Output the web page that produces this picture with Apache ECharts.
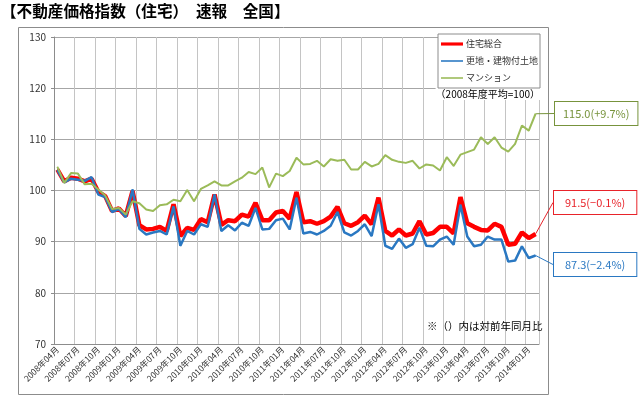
<!DOCTYPE html>
<html><head><meta charset="utf-8">
<script src="https://cdn.jsdelivr.net/npm/echarts@6/dist/echarts.min.js"></script>
<style>html,body{margin:0;padding:0;background:#fff}#c{width:640px;height:399px}</style>
</head><body><div id="c"></div>
<script>
const categories = [
'2008年04月','2008年05月','2008年06月','2008年07月','2008年08月','2008年09月','2008年10月','2008年11月','2008年12月',
'2009年01月','2009年02月','2009年03月','2009年04月','2009年05月','2009年06月','2009年07月','2009年08月','2009年09月','2009年10月','2009年11月','2009年12月',
'2010年01月','2010年02月','2010年03月','2010年04月','2010年05月','2010年06月','2010年07月','2010年08月','2010年09月','2010年10月','2010年11月','2010年12月',
'2011年01月','2011年02月','2011年03月','2011年04月','2011年05月','2011年06月','2011年07月','2011年08月','2011年09月','2011年10月','2011年11月','2011年12月',
'2012年01月','2012年02月','2012年03月','2012年04月','2012年05月','2012年06月','2012年07月','2012年08月','2012年09月','2012年10月','2012年11月','2012年12月',
'2013年01月','2013年02月','2013年03月','2013年04月','2013年05月','2013年06月','2013年07月','2013年08月','2013年09月','2013年10月','2013年11月','2013年12月',
'2014年01月','2014年02月'];

const seriesNames = ['住宅総合', '更地・建物付土地', 'マンション'];

const sogo = [104.1,101.8,102.5,102.3,101.8,102.3,99.7,98.9,96.0,96.5,95.0,99.9,
 93.2,92.4,92.5,92.9,92.1,97.3,91.1,92.7,92.3,94.4,93.8,99.2,
 93.3,94.2,94.0,95.3,94.9,97.6,94.2,94.2,95.7,96.0,94.5,99.7,
 93.8,94.0,93.5,94.0,94.9,96.8,93.6,93.1,93.8,95.1,93.4,98.6,
 92.1,91.2,92.4,91.2,91.6,94.0,91.4,91.7,92.9,92.9,91.6,98.7,
 93.6,92.9,92.3,92.2,93.5,92.9,89.4,89.6,91.8,90.7,91.5];

const tochi = [104.0,101.6,102.3,102.1,101.9,102.6,99.2,98.7,95.8,96.4,94.8,100.2,
 92.5,91.4,91.8,92.1,91.4,96.9,89.2,92.1,91.4,93.4,92.9,99.2,
 92.1,93.2,92.2,93.7,93.1,96.6,92.4,92.5,94.2,94.5,92.4,98.6,
 91.6,91.9,91.4,92.1,93.1,95.8,91.8,91.2,92.1,93.4,91.1,97.3,
 89.2,88.6,90.6,88.8,89.5,92.7,89.2,89.1,90.4,91.0,89.4,97.2,
 91.0,89.1,89.4,91.0,90.4,90.4,86.1,86.3,89.1,86.8,87.3];

const mansion = [104.6,101.5,103.4,103.3,101.2,101.3,100.2,99.0,96.4,96.6,95.3,97.9,
 97.5,96.3,96.0,97.1,97.3,98.2,97.9,100.1,97.9,100.3,101.0,101.8,
 101.0,101.0,101.8,102.5,103.6,103.2,104.5,100.6,103.3,102.8,103.8,106.4,
 105.1,105.2,105.8,104.7,106.1,105.8,106.0,104.1,104.1,105.6,104.7,105.2,
 106.9,106.0,105.6,105.4,105.8,104.3,105.1,104.9,103.9,106.5,104.8,107.0,
 107.5,108.0,110.4,109.1,110.4,108.4,107.6,109.1,112.7,111.7,115.0];

const endNotes = ['91.5(−0.1%)', '87.3(−2.4%)', '115.0(+9.7%)'];
const yTicks = {min: 70, max: 130, interval: 10};
const titleText = '【不動産価格指数（住宅）　速報　全国】';
const baseNote = '（2008年度平均=100）';
const footNote = '※（）内は対前年同月比';

const colors = ['#ff0000', '#2a78c2', '#9bbb59'];
const textColors = ['#e8232a', '#2a78c2', '#77933c'];
const widths = [4.5, 2.5, 2];
const notePos = [[554, 191], [554, 253], [555, 102]];
const notePad = [[5, 11], [5, 11], [5, 8]];
const FONT = '"Noto Sans CJK JP", "Noto Sans", sans-serif';

const chart = echarts.init(document.getElementById('c'), null, {renderer: 'canvas'});

function buildSeries(idx, vals) {
  const last = vals.length - 1;
  return {
    name: seriesNames[idx],
    type: 'line',
    data: vals.map((v, i) => i === last ? {
      value: v,
      label: {
        show: true,
        formatter: endNotes[idx],
        color: textColors[idx],
        fontSize: 11,
        fontFamily: FONT,
        lineHeight: 13,
        backgroundColor: '#fff',
        borderColor: textColors[idx],
        borderWidth: 1,
        padding: notePad[idx]
      }
    } : v),
    symbol: 'circle',
    symbolSize: 1,
    showSymbol: true,
    itemStyle: {color: colors[idx]},
    lineStyle: {color: colors[idx], width: widths[idx]},
    label: {show: false},
    labelLine: {show: true, lineStyle: {color: textColors[idx], width: 1}},
    labelLayout: function (p) {
      if (p.dataIndex !== last) return {};
      return {x: notePos[idx][0], y: notePos[idx][1], align: 'left', verticalAlign: 'top'};
    },
    emphasis: {disabled: true},
    z: 2 + idx
  };
}

const legendIcons = [
  'path://M0,0L28,0L28,4L0,4Z',
  'path://M0,0L28,0L28,2L0,2Z',
  'path://M0,0L28,0L28,2L0,2Z'
];

const option = {
  animation: false,
  backgroundColor: '#fff',
  grid: {left: 54, top: 37, width: 485, height: 307, containLabel: false},
  graphic: [
    {type: 'rect', shape: {x: 18.5, y: 27.5, width: 530, height: 367}, style: {fill: 'none', stroke: '#8c8c8c', lineWidth: 1}, z: 0, silent: true},
    {type: 'text', left: 1, top: 3, style: {text: titleText, font: 'bold 15.6px ' + FONT, fill: '#000'}, z: 10},
    {type: 'text', x: 540, y: 94, style: {text: baseNote, font: '10px ' + FONT, fill: '#000', align: 'right', verticalAlign: 'middle', backgroundColor: '#fff', padding: [1, 0]}, z: 10},
    {type: 'text', x: 427, y: 326, style: {text: footNote, font: '10.5px ' + FONT, fill: '#000', align: 'left', verticalAlign: 'middle'}, z: 10}
  ],
  legend: {
    orient: 'vertical',
    left: 438, top: 34,
    width: 100,
    padding: [4, 2, 4, 3],
    itemGap: 5,
    itemWidth: 22, itemHeight: 4,
    symbolKeepAspect: true,
    backgroundColor: '#fff',
    borderColor: '#8c8c8c', borderWidth: 1,
    textStyle: {fontSize: 9, fontFamily: FONT, color: '#333', lineHeight: 12, padding: [0, 0, 0, -2]},
    data: seriesNames.map((n, i) => ({name: n, icon: legendIcons[i], itemStyle: {color: colors[i]}})),
    selectedMode: false,
    z: 20
  },
  xAxis: {
    type: 'category',
    data: categories,
    boundaryGap: true,
    axisLine: {lineStyle: {color: '#8c8c8c', width: 1}},
    axisTick: {show: false},
    axisLabel: {interval: 2, rotate: 45, fontSize: 8.5, fontFamily: FONT, color: '#333', margin: 4},
    splitLine: {show: true, interval: 2, lineStyle: {color: '#c4c4c4', width: 1}}
  },
  yAxis: {
    type: 'value',
    min: yTicks.min, max: yTicks.max, interval: yTicks.interval,
    axisLine: {show: true, lineStyle: {color: '#8c8c8c'}},
    axisTick: {show: true, length: 3, lineStyle: {color: '#8c8c8c'}},
    axisLabel: {fontSize: 10, fontFamily: FONT, color: '#333', margin: 8},
    splitLine: {show: true, lineStyle: {color: '#a6a6a6', width: 1}}
  },
  series: [buildSeries(0, sogo), buildSeries(1, tochi), buildSeries(2, mansion)]
};
chart.setOption(option);
</script>
</body></html>
